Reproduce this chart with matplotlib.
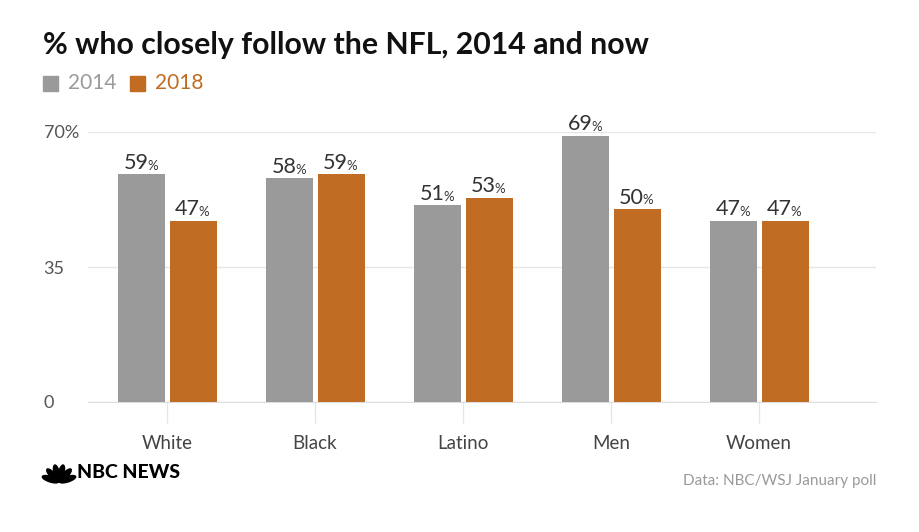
import numpy as np
import matplotlib.pyplot as plt
from matplotlib.patches import Ellipse

plt.rcParams['font.family'] = ['Lato', 'DejaVu Sans']

groups = ['White', 'Black', 'Latino', 'Men', 'Women']
y2014 = [59, 58, 51, 69, 47]
y2018 = [47, 59, 53, 50, 47]
yticks = [0, 35, 70]
ytick_labels = ['0', '35', '70%']

gray = '#9a9a9a'
orange = '#c06c22'
txt = '#333333'

fig = plt.figure(figsize=(9.2, 5.32), dpi=100)
ax = fig.add_axes([88/920, 1-402/532, (876-88)/920, 270/532])

x = np.arange(len(groups))
w = 0.318
ax.bar(x - 0.172, y2014, w, color=gray, zorder=3)
ax.bar(x + 0.176, y2018, w, color=orange, zorder=3)

def label(xpos, val):
    ax.annotate(str(val), (xpos, val), xytext=(5, 1), textcoords='offset points',
                ha='right', va='bottom', fontsize=15.5, color=txt, zorder=4)
    ax.annotate('%', (xpos, val), xytext=(4, 2), textcoords='offset points',
                ha='left', va='bottom', fontsize=9.5, color=txt, zorder=4)

for i in range(len(groups)):
    label(x[i] - 0.172, y2014[i])
    label(x[i] + 0.176, y2018[i])

ax.set_xlim(-0.534, 4.79)
ax.set_ylim(0, 70)
ax.set_yticks(yticks)
ax.set_yticklabels(ytick_labels)
ax.yaxis.grid(True, color='#e6e6e6', linewidth=1, zorder=0)
ax.tick_params(axis='y', length=0, pad=32, labelsize=13, labelcolor='#555555')
for t in ax.get_yticklabels():
    t.set_horizontalalignment('left')
ax.set_xticks(x)
ax.set_xticklabels(groups)
ax.tick_params(axis='x', length=15, width=1, color='#e6e6e6', pad=9,
               labelsize=13.5, labelcolor='#444444')
for s in ['top', 'right', 'left']:
    ax.spines[s].set_visible(False)
ax.spines['bottom'].set_color('#dddddd')

fig.text(43/920, 1-45/532, '% who closely follow the NFL, 2014 and now',
         fontsize=21.8, fontweight='bold', color='#111111', va='center')
# legend
fig.patches.append(plt.Rectangle((43/920, 1-91/532), 15/920, 15/532,
                                 color=gray, transform=fig.transFigure))
fig.text(68/920, 1-83/532, '2014', fontsize=15, color=gray, va='center')
fig.patches.append(plt.Rectangle((130/920, 1-91/532), 15/920, 15/532,
                                 color=orange, transform=fig.transFigure))
fig.text(155/920, 1-83/532, '2018', fontsize=15, color=orange, va='center')

# logo (peacock)
for a in [-72, -43, -14, 14, 43, 72]:
    r = np.deg2rad(a)
    cx, cy = 59 + 9*np.sin(r), 482 - 9*np.cos(r)
    fig.patches.append(Ellipse((cx/100, (532-cy)/100), 0.055, 0.17, angle=-a,
                               color='black', transform=fig.dpi_scale_trans))
fig.text(77/920, 1-472/532, 'NBC NEWS', fontsize=14, fontweight='black',
         color='black', va='center')

fig.text(876/920, 1-481/532, 'Data: NBC/WSJ January poll', fontsize=11,
         color='#999999', ha='right', va='center')

fig.savefig('out.png', dpi=100)
